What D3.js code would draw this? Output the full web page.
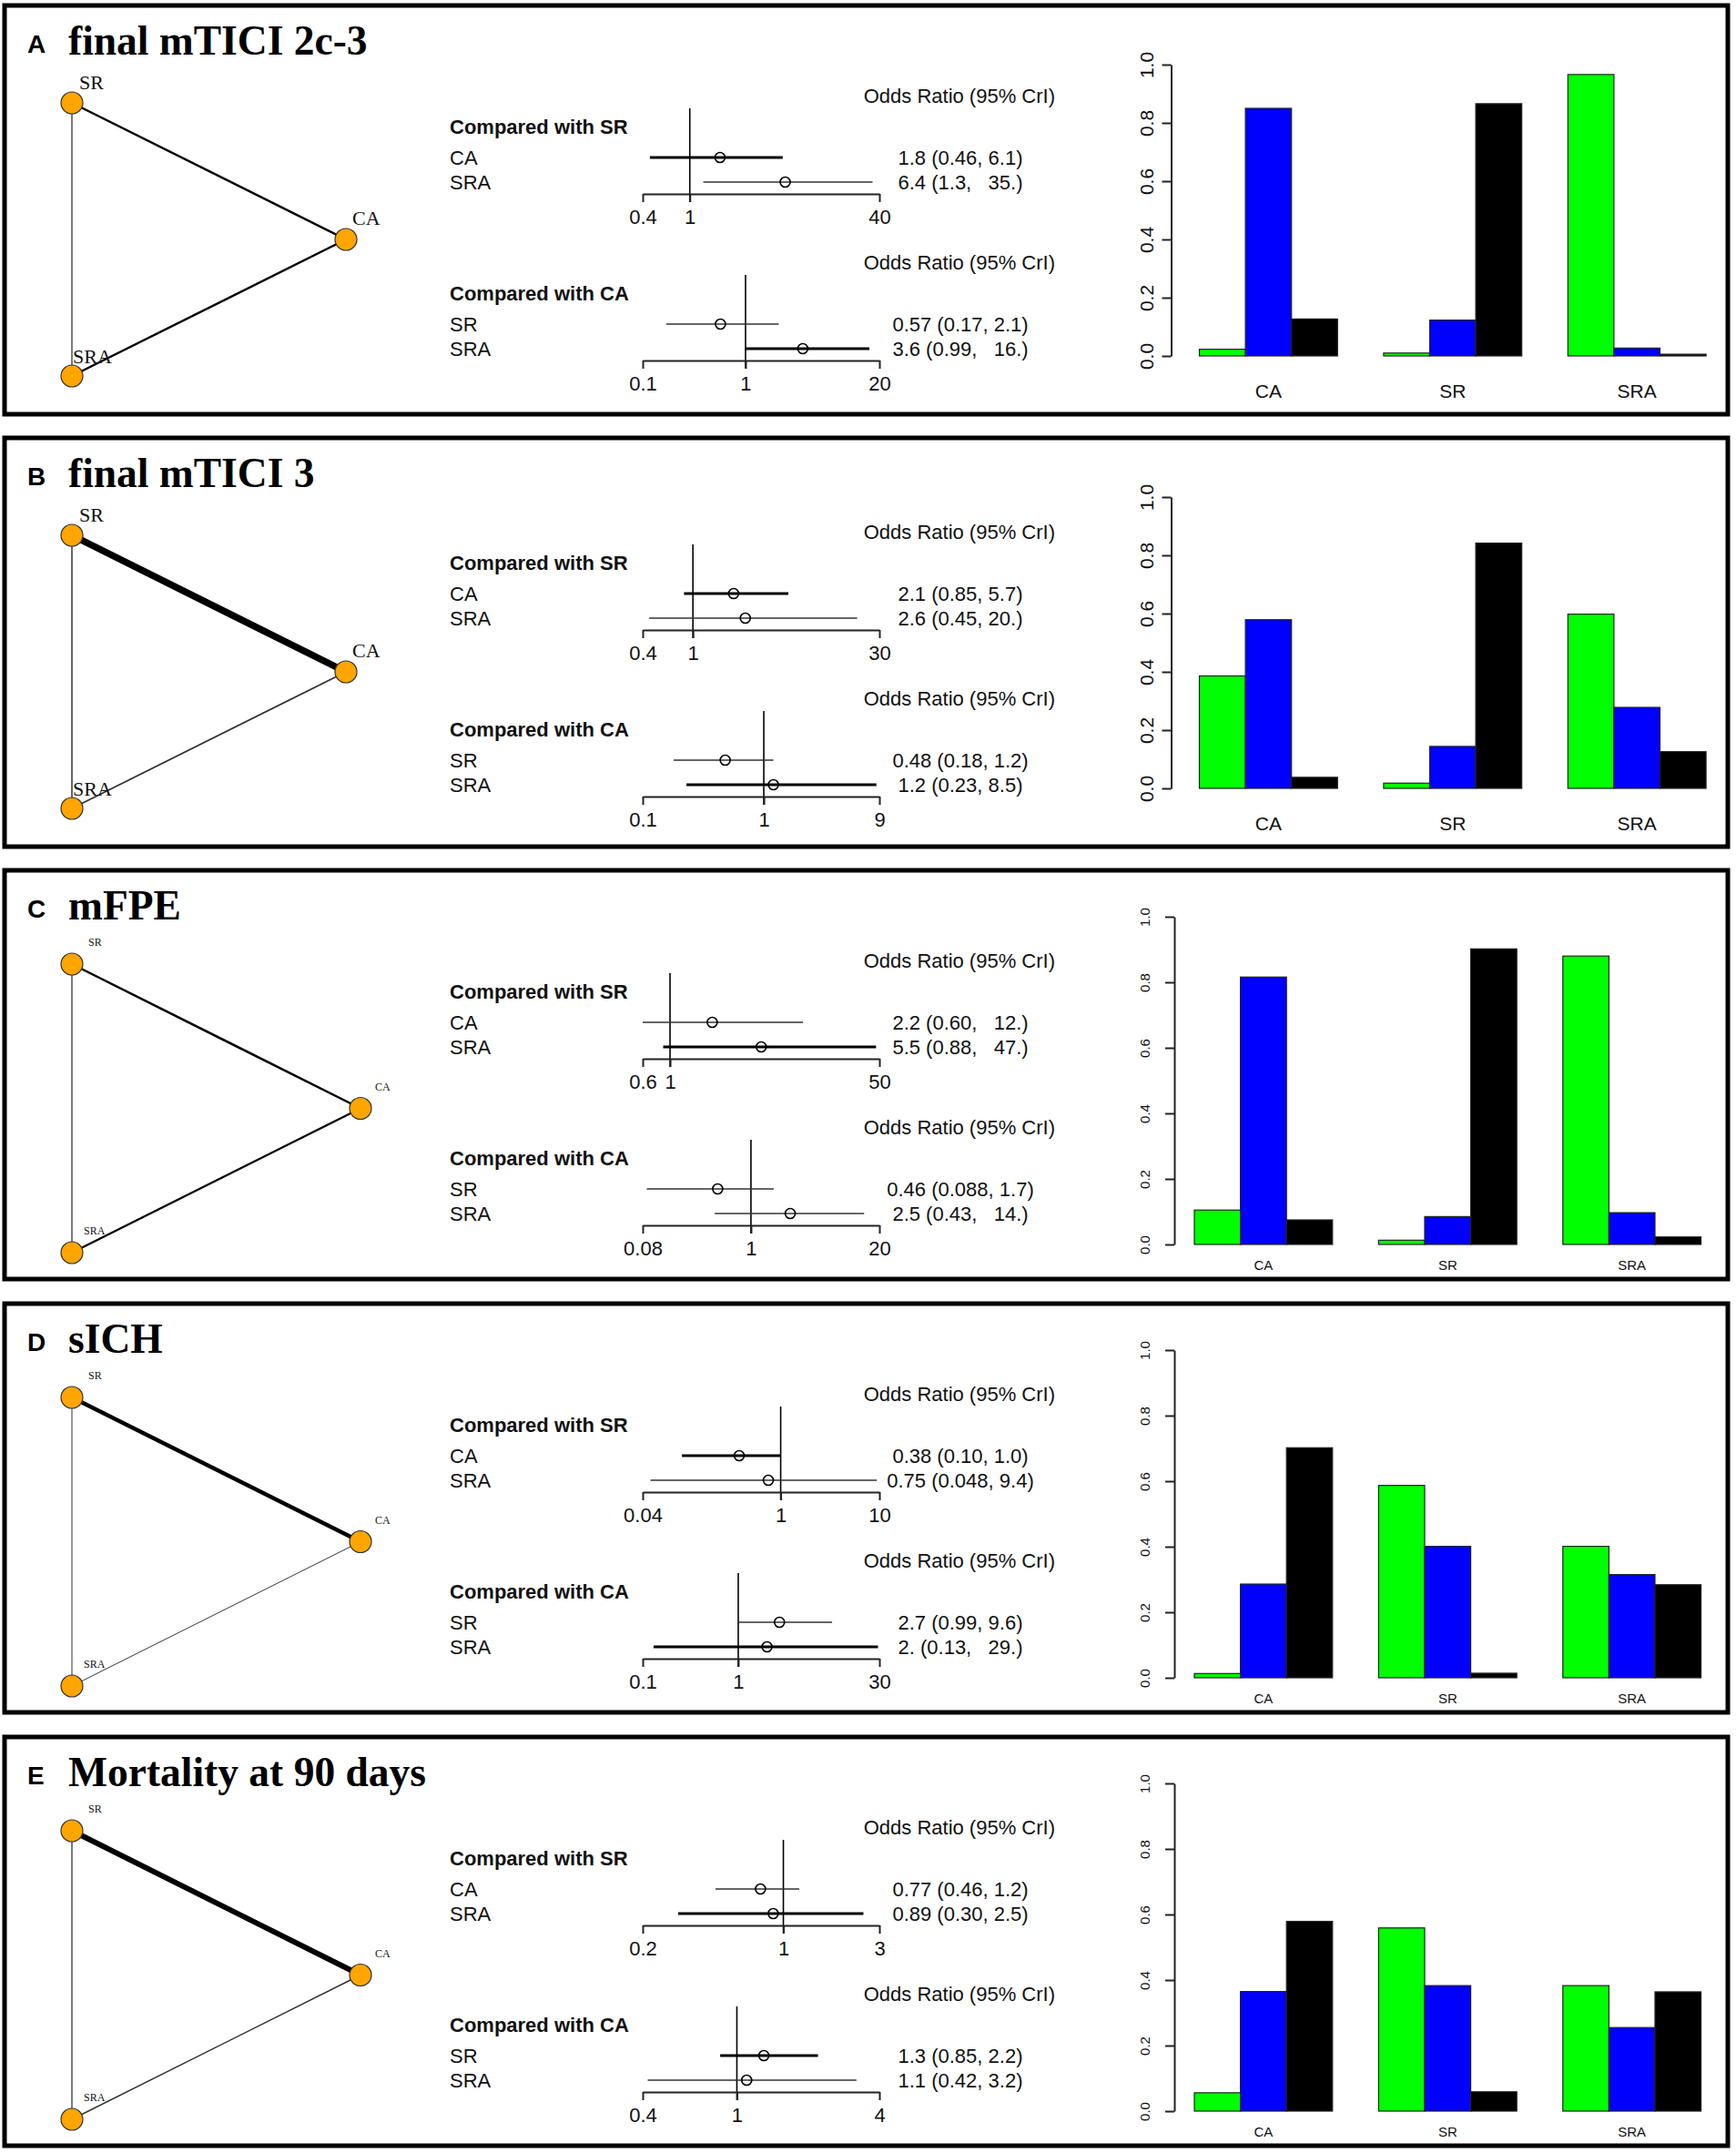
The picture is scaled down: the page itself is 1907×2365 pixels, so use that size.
<!DOCTYPE html>
<html><head><meta charset="utf-8">
<script src="https://cdn.jsdelivr.net/npm/d3@7"></script>
<style>body{margin:0;background:#fff} svg{display:block} text{white-space:pre}</style>
</head><body><svg id="c" width="1907" height="2365"></svg>
<script>
// ---------------- DATA ----------------
const panelLetters = ["A","B","C","D","E"];
const panelTitles = ["final mTICI 2c-3","final mTICI 3","mFPE","sICH","Mortality at 90 days"];
const treatments = ["CA","SR","SRA"];
// network: node angle on the layout circle
const nodeAngles = {CA:0, SR:120, SRA:240};
const edgePairs = [["SR","CA"],["SR","SRA"],["CA","SRA"]];
const edgeWeights = [[2.5,1.3,2.5],[7.5,1.5,1.8],[2.5,1.3,2.2],[4.5,1.0,1.0],[6.0,1.3,1.5]];
// forest plots
const compareRefs = ["SR","CA"];
const compareRows = [["CA","SRA"],["SR","SRA"]];
const orMedian = [[[1.8,6.4],[0.57,3.6]],[[2.1,2.6],[0.48,1.2]],[[2.2,5.5],[0.46,2.5]],[[0.38,0.75],[2.7,2.0]],[[0.77,0.89],[1.3,1.1]]];
const orLower  = [[[0.46,1.3],[0.17,0.99]],[[0.85,0.45],[0.18,0.23]],[[0.60,0.88],[0.088,0.43]],[[0.10,0.048],[0.99,0.13]],[[0.46,0.30],[0.85,0.42]]];
const orUpper  = [[[6.1,35],[2.1,16]],[[5.7,20],[1.2,8.5]],[[12,47],[1.7,14]],[[1.0,9.4],[9.6,29]],[[1.2,2.5],[2.2,3.2]]];
const orText = [
  [["1.8 (0.46, 6.1)","6.4 (1.3,   35.)"],["0.57 (0.17, 2.1)","3.6 (0.99,   16.)"]],
  [["2.1 (0.85, 5.7)","2.6 (0.45, 20.)"],["0.48 (0.18, 1.2)","1.2 (0.23, 8.5)"]],
  [["2.2 (0.60,   12.)","5.5 (0.88,   47.)"],["0.46 (0.088, 1.7)","2.5 (0.43,   14.)"]],
  [["0.38 (0.10, 1.0)","0.75 (0.048, 9.4)"],["2.7 (0.99, 9.6)","2. (0.13,   29.)"]],
  [["0.77 (0.46, 1.2)","0.89 (0.30, 2.5)"],["1.3 (0.85, 2.2)","1.1 (0.42, 3.2)"]]
];
const orTicks = [[[0.4,1,40],[0.1,1,20]],[[0.4,1,30],[0.1,1,9]],[[0.6,1,50],[0.08,1,20]],[[0.04,1,10],[0.1,1,30]],[[0.2,1,3],[0.4,1,4]]];
const ciHeavy = [[[1,0],[0,1]],[[1,0],[0,1]],[[0,1],[0,0]],[[1,0],[0,1]],[[0,1],[1,0]]];
// rank probabilities per panel, per treatment (CA, SR, SRA)
const probGreen = [[0.023,0.010,0.966],[0.386,0.018,0.598],[0.105,0.013,0.880],[0.013,0.587,0.401],[0.056,0.559,0.383]];
const probBlue  = [[0.850,0.123,0.027],[0.579,0.144,0.278],[0.816,0.085,0.097],[0.286,0.401,0.315],[0.365,0.383,0.255]];
const probBlack = [[0.127,0.866,0.006],[0.038,0.842,0.126],[0.075,0.902,0.023],[0.702,0.014,0.284],[0.579,0.059,0.364]];
const rankColors = ["#00ff00","#0000ff","#000000"];
const barTicks = [0,0.2,0.4,0.6,0.8,1.0];

// ---------------- LAYOUT ----------------
const W = 1907, H = 2365;
const SANS = "'Liberation Sans', Arial, Helvetica, sans-serif";
const SERIF = "'Liberation Serif', 'Times New Roman', Times, serif";
const panelTop = [6, 481, 956, 1432, 1908];
const panelH = 449;
const panelStyle = ["large","large","small","small","small"];
const forestDy = [0,4,0,0,0];
const styles = {
  large: {netX:[79,380], netY:[107,407], lblFont:22, lblOff:{SR:[8,-15],CA:[7,-16],SRA:[1,-14]},
          barX0:1317.5, axisGap:31, yRange:[385,65], tickLblOff:-27, tickFont:21, grpFont:21, grpY:431},
  small: {netX:[79,396], netY:[103,420], lblFont:12, lblOff:{SR:[18,-20],CA:[16,-20],SRA:[13,-20]},
          barX0:1312, axisGap:22, yRange:[411,51], tickLblOff:-32, tickFont:15, grpFont:15, grpY:439}
};
const barW = 50.6;

const svg = d3.select("#c");
svg.append("rect").attr("width",W).attr("height",H).attr("fill","#fff");

panelLetters.forEach((L, p) => {
  const top = panelTop[p];
  const st = styles[panelStyle[p]];
  const g = svg.append("g");

  // border
  g.append("rect").attr("x",5).attr("y",top).attr("width",1893).attr("height",panelH)
    .attr("fill","none").attr("stroke","#000").attr("stroke-width",5);

  // titles
  g.append("text").attr("x",30).attr("y",top+52).attr("font-family",SANS).attr("font-weight","bold")
    .attr("font-size",28).text(L);
  g.append("text").attr("x",75).attr("y",top+54).attr("font-family",SERIF).attr("font-weight","bold")
    .attr("font-size",45.5).text(panelTitles[p]);

  // ---- network ----
  const nx = d3.scaleLinear().domain([-0.5,1]).range(st.netX);
  const ny = d3.scaleLinear().domain([Math.sin(Math.PI*2/3), -Math.sin(Math.PI*2/3)]).range([top+st.netY[0], top+st.netY[1]]);
  const pos = {};
  treatments.forEach(t => {
    const a = nodeAngles[t]*Math.PI/180;
    pos[t] = [nx(Math.cos(a)), ny(Math.sin(a))];
  });
  edgePairs.forEach((e, i) => {
    const w = edgeWeights[p][i];
    g.append("line").attr("x1",pos[e[0]][0]).attr("y1",pos[e[0]][1])
      .attr("x2",pos[e[1]][0]).attr("y2",pos[e[1]][1])
      .attr("stroke", w > 2 ? "#000" : "#333").attr("stroke-width", w);
  });
  treatments.forEach(t => {
    g.append("circle").attr("cx",pos[t][0]).attr("cy",pos[t][1]).attr("r",12)
      .attr("fill","#ffa500").attr("stroke","#333").attr("stroke-width",1.2);
    g.append("text").attr("x",pos[t][0]+st.lblOff[t][0]).attr("y",pos[t][1]+st.lblOff[t][1])
      .attr("font-family",SERIF).attr("font-size",st.lblFont).attr("fill","#111").text(t);
  });

  // ---- forest plots ----
  [0,1].forEach(b => {
    const base = top + forestDy[p] + b*183;
    const ticks = orTicks[p][b];
    const xs = d3.scaleLog().domain([ticks[0], ticks[2]]).range([706, 966]);
    g.append("text").attr("x",1159).attr("y",base+107).attr("text-anchor","end")
      .attr("font-family",SANS).attr("font-size",22).attr("fill","#111").text("Odds Ratio (95% CrI)");
    g.append("text").attr("x",494).attr("y",base+141).attr("font-family",SANS).attr("font-weight","bold")
      .attr("font-size",22).attr("fill","#111").text("Compared with " + compareRefs[b]);
    // reference line
    g.append("line").attr("x1",xs(1)).attr("x2",xs(1)).attr("y1",base+113).attr("y2",base+216)
      .attr("stroke","#000").attr("stroke-width",1.6);
    compareRows[b].forEach((lab, r) => {
      const cy = base + 167 + 27*r;
      g.append("text").attr("x",494).attr("y",cy+7.5).attr("font-family",SANS).attr("font-size",22)
        .attr("fill","#111").text(lab);
      g.append("line").attr("x1",xs(orLower[p][b][r])).attr("x2",xs(orUpper[p][b][r]))
        .attr("y1",cy).attr("y2",cy).attr("stroke", ciHeavy[p][b][r] ? "#000" : "#333")
        .attr("stroke-width", ciHeavy[p][b][r] ? 3.2 : 1.6);
      g.append("circle").attr("cx",xs(orMedian[p][b][r])).attr("cy",cy).attr("r",5.5)
        .attr("fill","none").attr("stroke","#000").attr("stroke-width",1.6);
      g.append("text").attr("x",1055).attr("y",cy+7.5).attr("text-anchor","middle")
        .attr("font-family",SANS).attr("font-size",22).attr("fill","#111").text(orText[p][b][r]);
    });
    const ax = g.append("g").attr("transform",`translate(0,${base+207})`)
      .call(d3.axisBottom(xs).tickValues(ticks).tickFormat(d => String(d)).tickSize(9).tickSizeOuter(0).tickPadding(8));
    ax.attr("font-family",SANS).attr("font-size",22);
    ax.selectAll("path,line").attr("stroke","#222").attr("stroke-width",2);
    ax.selectAll("text").attr("fill","#111");
  });

  // ---- rank bar chart ----
  const ys = d3.scaleLinear().domain([0,1]).range([top+st.yRange[0], top+st.yRange[1]]);
  const xb = d3.scaleLinear().domain([1,12]).range([st.barX0, st.barX0 + 11*barW]);
  const probs = [probGreen[p], probBlue[p], probBlack[p]];
  treatments.forEach((t, ti) => {
    [0,1,2].forEach(k => {
      const v = probs[k][ti];
      const x0 = xb(1 + 4*ti + k), x1 = xb(2 + 4*ti + k);
      g.append("rect").attr("x",x0).attr("y",ys(v)).attr("width",x1-x0).attr("height",ys(0)-ys(v))
        .attr("fill",rankColors[k]).attr("stroke","#222").attr("stroke-width",1.2);
    });
    g.append("text").attr("x",xb(2.5 + 4*ti)).attr("y",top+st.grpY).attr("text-anchor","middle")
      .attr("font-family",SANS).attr("font-size",st.grpFont).attr("fill","#111").text(t);
  });
  const axX = st.barX0 - st.axisGap;
  const ya = g.append("g").attr("transform",`translate(${axX},0)`)
    .call(d3.axisLeft(ys).tickValues(barTicks).tickFormat(d3.format(".1f")).tickSize(10).tickSizeOuter(0));
  ya.attr("font-family",SANS).attr("font-size",st.tickFont);
  ya.selectAll("path,line").attr("stroke","#222").attr("stroke-width",2);
  ya.selectAll("text").attr("x",null).attr("dy","0.35em").attr("text-anchor","middle").attr("fill","#111")
    .attr("transform",`translate(${st.tickLblOff},0) rotate(-90)`);
});
</script>
</body></html>
